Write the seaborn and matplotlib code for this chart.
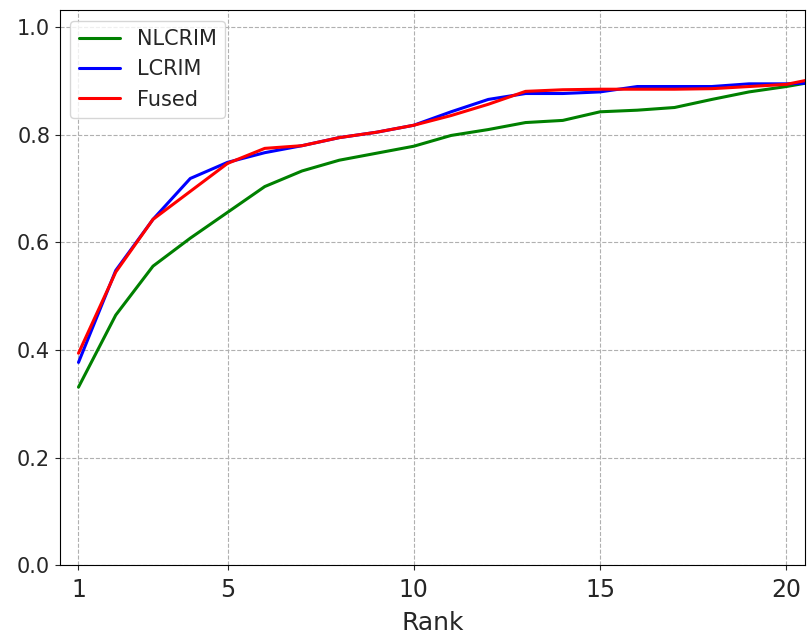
import numpy as np
import pandas as pd
import seaborn as sns
import matplotlib.pyplot as plt

rank = list(range(1, 22))

nlcrim = [0.331, 0.465, 0.556, 0.608, 0.656, 0.704, 0.733, 0.753, 0.766, 0.779,
          0.799, 0.810, 0.823, 0.827, 0.843, 0.846, 0.851, 0.866, 0.880, 0.890, 0.902]
lcrim = [0.377, 0.548, 0.643, 0.719, 0.749, 0.767, 0.780, 0.795, 0.805, 0.818,
         0.843, 0.866, 0.877, 0.877, 0.880, 0.890, 0.890, 0.890, 0.895, 0.895, 0.897]
fused = [0.394, 0.545, 0.643, 0.695, 0.747, 0.775, 0.780, 0.795, 0.805, 0.818,
         0.836, 0.857, 0.881, 0.884, 0.885, 0.885, 0.885, 0.886, 0.890, 0.894, 0.908]

series = ["NLCRIM", "LCRIM", "Fused"]
colors = ["green", "blue", "red"]

df = pd.DataFrame({
    "Rank": rank * 3,
    "value": nlcrim + lcrim + fused,
    "method": ["NLCRIM"] * 21 + ["LCRIM"] * 21 + ["Fused"] * 21,
})

sns.set_style("ticks")
fig, ax = plt.subplots(figsize=(8.09, 6.35), dpi=100)
fig.subplots_adjust(left=0.074, right=0.995, top=0.984, bottom=0.11)

sns.lineplot(data=df, x="Rank", y="value", hue="method", hue_order=series,
             palette=colors, linewidth=2.2, ax=ax)

ax.set_xlim(0.5, 20.5)
ax.set_ylim(0, 1.032)
ax.set_xticks([1, 5, 10, 15, 20])
ax.set_yticks([0.0, 0.2, 0.4, 0.6, 0.8, 1.0])
ax.tick_params(axis="x", labelsize=17, pad=6)
ax.tick_params(axis="y", labelsize=15)
ax.set_xlabel("Rank", fontsize=18, labelpad=6)
ax.set_ylabel("")
ax.grid(True, linestyle="--", color="#b0b0b0", linewidth=0.8)
for s in ax.spines.values():
    s.set_visible(True)
    s.set_color("black")
ax.legend(loc="upper left", fontsize=15, title=None)

plt.savefig("out.png", dpi=100)
